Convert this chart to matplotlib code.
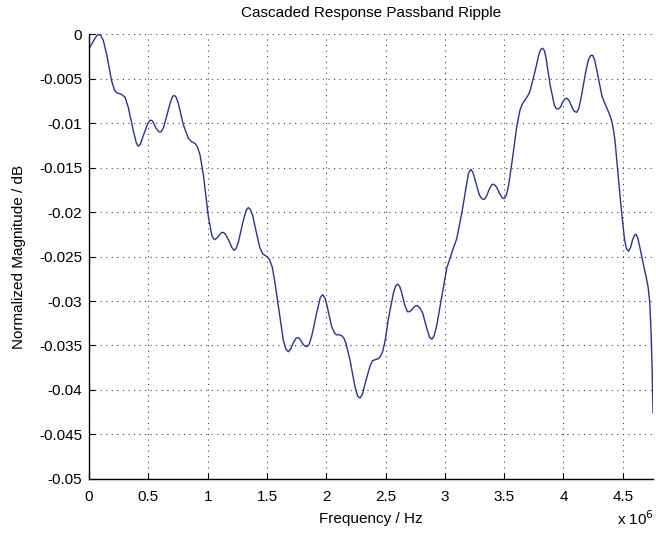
import matplotlib
matplotlib.use("Agg")
import matplotlib.pyplot as plt
import numpy as np

# frequency in MHz (scaled to Hz below) and normalized magnitude in dB
freq_mhz = [
    0.000, 0.036, 0.065, 0.084, 0.100, 0.120, 0.149, 0.191, 0.215, 0.233, 0.255, 0.276,
    0.304, 0.332, 0.374, 0.400, 0.416, 0.432, 0.458, 0.494, 0.512, 0.528, 0.545, 0.565,
    0.590, 0.607, 0.625, 0.647, 0.683, 0.705, 0.720, 0.735, 0.753, 0.795, 0.837, 0.865,
    0.894, 0.915, 0.936, 0.964, 0.985, 1.006, 1.035, 1.050, 1.062, 1.080, 1.099, 1.118,
    1.133, 1.150, 1.175, 1.205, 1.223, 1.240, 1.259, 1.296, 1.325, 1.343, 1.360, 1.380,
    1.414, 1.440, 1.465, 1.498, 1.520, 1.545, 1.568, 1.605, 1.638, 1.660, 1.680, 1.700,
    1.722, 1.745, 1.765, 1.785, 1.807, 1.825, 1.840, 1.858, 1.878, 1.920, 1.950, 1.970,
    1.990, 2.004, 2.046, 2.070, 2.088, 2.110, 2.131, 2.150, 2.167, 2.201, 2.243, 2.265,
    2.285, 2.305, 2.327, 2.369, 2.390, 2.411, 2.435, 2.454, 2.475, 2.496, 2.524, 2.566,
    2.585, 2.603, 2.620, 2.637, 2.660, 2.684, 2.703, 2.721, 2.745, 2.768, 2.790, 2.814,
    2.850, 2.872, 2.890, 2.910, 2.932, 2.974, 3.016, 3.058, 3.100, 3.143, 3.179, 3.200,
    3.218, 3.235, 3.255, 3.291, 3.312, 3.331, 3.352, 3.375, 3.398, 3.415, 3.437, 3.460,
    3.483, 3.500, 3.518, 3.536, 3.572, 3.606, 3.634, 3.655, 3.676, 3.697, 3.718, 3.760,
    3.794, 3.810, 3.825, 3.840, 3.853, 3.887, 3.923, 3.940, 3.957, 3.975, 3.991, 4.010,
    4.028, 4.048, 4.070, 4.092, 4.112, 4.130, 4.148, 4.188, 4.210, 4.230, 4.247, 4.262,
    4.280, 4.323, 4.345, 4.365, 4.390, 4.407, 4.422, 4.435, 4.463, 4.492, 4.514, 4.530,
    4.548, 4.565, 4.581, 4.598, 4.612, 4.628, 4.646, 4.680, 4.700, 4.714, 4.727, 4.739,
    4.747, 4.755,
]
mag_db = [
    -0.00165, -0.0008, -0.0002, 0.0, -0.0002, -0.0007, -0.0023, -0.0053, -0.0063, -0.0066, -0.0067, -0.0068,
    -0.0071, -0.0083, -0.0109, -0.0123, -0.0126, -0.0124, -0.0114, -0.0101, -0.0097, -0.0097, -0.0100, -0.0106,
    -0.0110, -0.0110, -0.0106, -0.0096, -0.0078, -0.0070, -0.0069, -0.0071, -0.0078, -0.0102, -0.0117, -0.0121,
    -0.0123, -0.0127, -0.0136, -0.0158, -0.0182, -0.0205, -0.0226, -0.0230, -0.0231, -0.0229, -0.0226, -0.0223,
    -0.0223, -0.0225, -0.0231, -0.0240, -0.0243, -0.0241, -0.0234, -0.0212, -0.0198, -0.0195, -0.0197, -0.0204,
    -0.0225, -0.0240, -0.0247, -0.0250, -0.0253, -0.0262, -0.0280, -0.0314, -0.0344, -0.0354, -0.0357, -0.0354,
    -0.0347, -0.0342, -0.0341, -0.0344, -0.0349, -0.0351, -0.0351, -0.0348, -0.0339, -0.0313, -0.0296, -0.0293,
    -0.0297, -0.0304, -0.0329, -0.0336, -0.0338, -0.0338, -0.0339, -0.0342, -0.0348, -0.0367, -0.0397, -0.0407,
    -0.0409, -0.0405, -0.0393, -0.0373, -0.0367, -0.0366, -0.0365, -0.0363, -0.0357, -0.0345, -0.0320, -0.0291,
    -0.0283, -0.0281, -0.0284, -0.0291, -0.0304, -0.0312, -0.0312, -0.0310, -0.0306, -0.0305, -0.0308, -0.0314,
    -0.0332, -0.0341, -0.0343, -0.0339, -0.0327, -0.0295, -0.0263, -0.0246, -0.0230, -0.0201, -0.0172, -0.0156,
    -0.0152, -0.0155, -0.0164, -0.0181, -0.0185, -0.0186, -0.0182, -0.0174, -0.0169, -0.0169, -0.0172, -0.0179,
    -0.0184, -0.0185, -0.0181, -0.0171, -0.0138, -0.0104, -0.0085, -0.0078, -0.0074, -0.0070, -0.0064, -0.0042,
    -0.0022, -0.0017, -0.0016, -0.0019, -0.0027, -0.0057, -0.0080, -0.0084, -0.0084, -0.0082, -0.0077, -0.0073,
    -0.0072, -0.0075, -0.0082, -0.0087, -0.0088, -0.0083, -0.0072, -0.0042, -0.0029, -0.0024, -0.0024, -0.0029,
    -0.0040, -0.0069, -0.0077, -0.0083, -0.0091, -0.0098, -0.0108, -0.0121, -0.0162, -0.0203, -0.0230, -0.0241,
    -0.0244, -0.0240, -0.0232, -0.0226, -0.0225, -0.0230, -0.0241, -0.0263, -0.0275, -0.0285, -0.0301, -0.0338,
    -0.0376, -0.0426,
]

x_ticks = [0, 0.5, 1, 1.5, 2, 2.5, 3, 3.5, 4, 4.5]
y_ticks = [0, -0.005, -0.01, -0.015, -0.02, -0.025, -0.03, -0.035, -0.04, -0.045, -0.05]

plt.rcParams['font.family'] = ['Liberation Sans', 'DejaVu Sans']

freq_hz = np.array(freq_mhz) * 1e6

fig = plt.figure(figsize=(6.56, 5.35), dpi=100)
ax = fig.add_axes([0.1357, 0.1047, 0.8598, 0.8317])

ax.plot(freq_hz, mag_db, color='#2e3192', linewidth=1.0, solid_joinstyle='round')

ax.set_xlim(0, freq_hz[-1])
ax.set_ylim(-0.05, 0)
ax.set_xticks(np.array(x_ticks) * 1e6)
ax.set_xticklabels([f'{t:g}' for t in x_ticks])
ax.set_yticks(y_ticks)
ax.set_yticklabels([f'{t:g}' for t in y_ticks])

ax.grid(True, linestyle=(0, (1, 4)), color='#444444', linewidth=0.8)
ax.spines['top'].set_visible(False)
ax.spines['right'].set_visible(False)
ax.spines['left'].set_linewidth(1.0)
ax.spines['bottom'].set_linewidth(1.0)
ax.tick_params(direction='in', length=4, labelsize=11, colors='black')
ax.tick_params(axis='x', pad=8)
ax.tick_params(axis='y', pad=5)

ax.set_title('Cascaded Response Passband Ripple', fontsize=11, pad=12)
ax.set_xlabel('Frequency / Hz', fontsize=11, labelpad=6)
ax.set_ylabel('Normalized Magnitude / dB', fontsize=11, labelpad=9)

fig.text(0.941, 0.014, r'x 10$^6$', fontsize=11, ha='left', va='bottom')

fig.savefig('out.png', dpi=100)
